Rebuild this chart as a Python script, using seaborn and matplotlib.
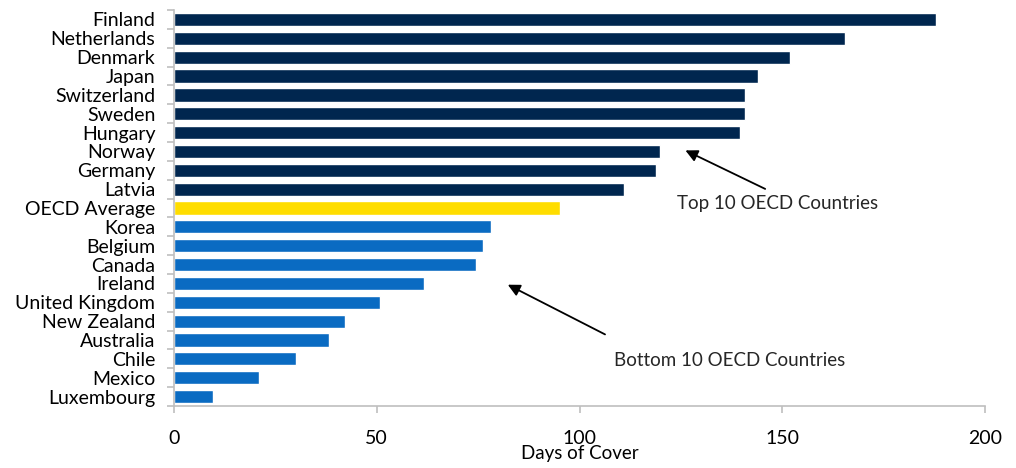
import matplotlib
matplotlib.use("Agg")
import matplotlib.pyplot as plt
import seaborn as sns
import pandas as pd

countries = ["Finland", "Netherlands", "Denmark", "Japan", "Switzerland", "Sweden",
             "Hungary", "Norway", "Germany", "Latvia", "OECD Average", "Korea",
             "Belgium", "Canada", "Ireland", "United Kingdom", "New Zealand",
             "Australia", "Chile", "Mexico", "Luxembourg"]
days = [188.0, 165.5, 151.8, 143.9, 140.9, 140.8, 139.5, 119.8, 118.8, 110.9,
        95.2, 78.2, 76.2, 74.5, 61.6, 50.8, 42.1, 38.2, 30.0, 20.9, 9.7]
groups = ["Top"] * 10 + ["Average"] + ["Bottom"] * 10
palette = {"Top": "#00264F", "Average": "#FFDD00", "Bottom": "#0A6BC2"}

df = pd.DataFrame({"country": countries, "days": days, "group": groups})

sns.set_theme(style="white")
plt.rcParams["font.family"] = ["Lato", "DejaVu Sans"]

fig = plt.figure(figsize=(10.16, 4.68), dpi=100)
ax = fig.add_axes([0.1713, 0.1325, 0.7982, 0.846])
sns.barplot(data=df, x="days", y="country", hue="group", palette=palette,
            dodge=False, legend=False, width=0.7, ax=ax, saturation=1)

ax.set_xlim(0, 200)
ax.set_ylim(20.5, -0.5)
ax.set_xticks([0, 50, 100, 150, 200])
ax.set_ylabel("")
ax.set_xlabel("Days of Cover", fontsize=13.5, labelpad=-1, color="#000000")

for s in ["top", "right"]:
    ax.spines[s].set_visible(False)
for s in ["left", "bottom"]:
    ax.spines[s].set_color("#BFBFBF")
    ax.spines[s].set_linewidth(1.2)

ax.tick_params(axis="y", which="major", length=0, pad=13.5, labelsize=14, labelcolor="#000000")
ax.set_yticks([i + 0.5 for i in range(-1, 21)], minor=True)
ax.tick_params(axis="y", which="minor", length=5, color="#BFBFBF", width=1.2, left=True)
ax.tick_params(axis="x", which="major", length=5, color="#BFBFBF", width=1.2,
               bottom=True, pad=12, labelsize=14, labelcolor="#000000")

ax.annotate("", xy=(125.5, 6.88), xytext=(146.4, 9.05),
            arrowprops=dict(arrowstyle="-|>", color="black", lw=1.3, mutation_scale=18))
ax.text(148.9, 9.74, "Top 10 OECD Countries", ha="center", va="center", fontsize=13.5)
ax.annotate("", xy=(81.7, 14.0), xytext=(106.9, 16.77),
            arrowprops=dict(arrowstyle="-|>", color="black", lw=1.3, mutation_scale=18))
ax.text(137.1, 18.1, "Bottom 10 OECD Countries", ha="center", va="center", fontsize=13.5)

fig.savefig("out.png", dpi=100)
